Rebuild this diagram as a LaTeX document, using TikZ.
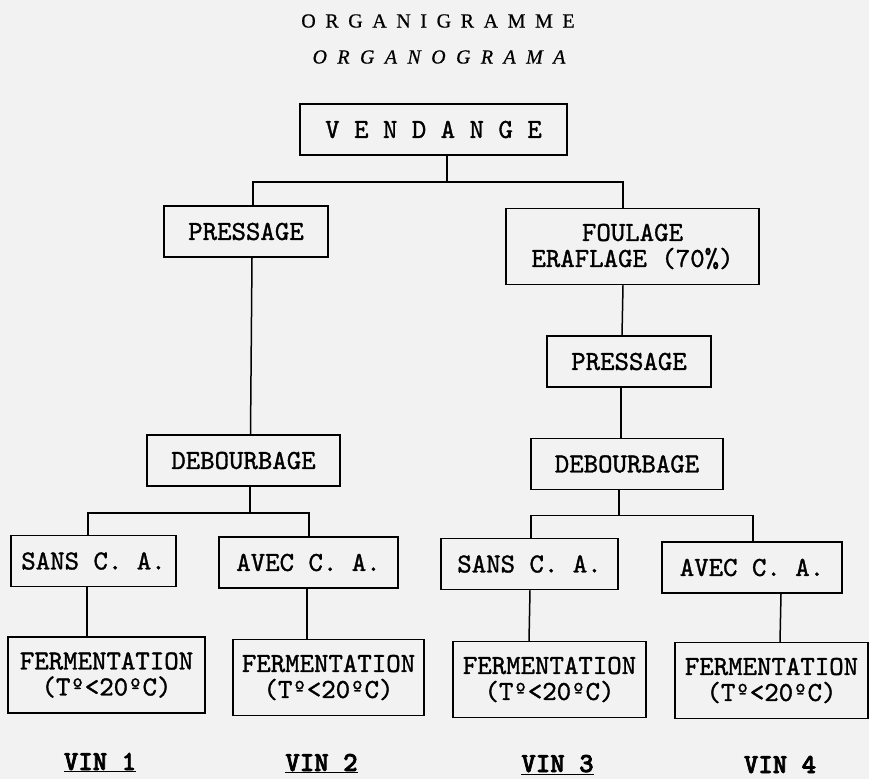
\documentclass[tikz,border=0pt]{standalone}
\usepackage{fontspec}
\newfontfamily\titlefont[LetterSpace=48,FakeBold=0.6]{Liberation Serif}
\newfontfamily\typefont[FakeBold=1.2]{lmmono10-regular.otf}
\newfontfamily\vinfont[FakeBold=2.5]{lmmonolt10-bold.otf}
\tikzstyle{box}=[draw,line width=1.5pt,align=center,inner sep=0pt,font=\typefont\fontsize{27.5}{26}\selectfont]
\tikzstyle{flat box}=[box,minimum height=51pt]
\tikzstyle{tall box}=[box,minimum height=76pt]
\tikzstyle{title}=[font=\titlefont\fontsize{20}{22}\selectfont]
\tikzstyle{wine}=[anchor=base,font=\vinfont\fontsize{27.5}{26}\selectfont]
\tikzstyle{link}=[draw,line width=1.5pt,-]

\begin{document}
\begin{tikzpicture}[x=1pt,y=-1pt]
    \fill[black!5] (0,0) rectangle (869,779);
    \useasboundingbox (0,0) rectangle (869,779);

    \node[title] (head) at (438,21) {ORGANIGRAMME};
    \node[title] (subhead) at (439,57) {\itshape\addfontfeature{LetterSpace=52}ORGANOGRAMA};

    \foreach \pos/\name/\w/\txt in {{(433.5,129.5)/vend/267/V E N D A N G E},
                                    {(246,231.5)/pressL/164/PRESSAGE}, {(629,361.5)/pressR/164/PRESSAGE},
                                    {(243.5,460.5)/debL/193/DEBOURBAGE}, {(627,464)/debR/192/DEBOURBAGE},
                                    {(93.5,561)/sansL/165/SANS C. A.}, {(308.5,562.5)/avecL/179/AVEC C. A.},
                                    {(529.5,564)/sansR/177/SANS C. A.}, {(752,567.5)/avecR/180/AVEC C. A.}}
        \node[flat box, minimum width=\w] (\name) at \pos {\txt};

    \foreach \pos/\name/\w/\txt in {{(632.5,246.5)/foul/253/FOULAGE\\ERAFLAGE (70\%)},
                                    {(106.5,675)/ferm1/197/FERMENTATION\\(Tº<20ºC)},
                                    {(328.5,677.5)/ferm2/191/FERMENTATION\\(Tº<20ºC)},
                                    {(549.5,679.5)/ferm3/193/FERMENTATION\\(Tº<20ºC)},
                                    {(771.5,680.5)/ferm4/193/FERMENTATION\\(Tº<20ºC)}}
        \node[tall box, minimum width=\w] (\name) at \pos {\txt};

    \foreach \pos/\name/\txt in {{(100,770)/vin1/\underline{VIN 1}}, {(321.5,771)/vin2/\underline{VIN 2}},
                                 {(557.5,772)/vin3/\underline{VIN 3}}, {(780,773)/vin4/VIN 4}}
        \node[wine] (\name) at \pos {\txt};

    \foreach \src/\a/\dst/\b/\drop in {vend/13.5/pressL/7/26, vend/13.5/foul/-9.5/26,
                                       debL/6.5/sansL/-5.5/26, debL/6.5/avecL/0.5/26,
                                       debR/-8/sansR/1.5/25, debR/-8/avecR/1/25}
        \path[link] ([xshift=\a]\src.south) -- ++(0,\drop) -| ([xshift=\b]\dst.north);

    \foreach \src/\a/\dst/\b in {pressL/6/debL/7, foul/-9.5/pressR/-7, pressR/-8/debR/-6,
                                 sansL/-6.5/ferm1/-19.5, avecL/-1.5/ferm2/-21.5,
                                 sansR/0.5/ferm3/-20.5, avecR/29/ferm4/8.5}
        \path[link] ([xshift=\a]\src.south) -- ([xshift=\b]\dst.north);

\end{tikzpicture}
\end{document}
